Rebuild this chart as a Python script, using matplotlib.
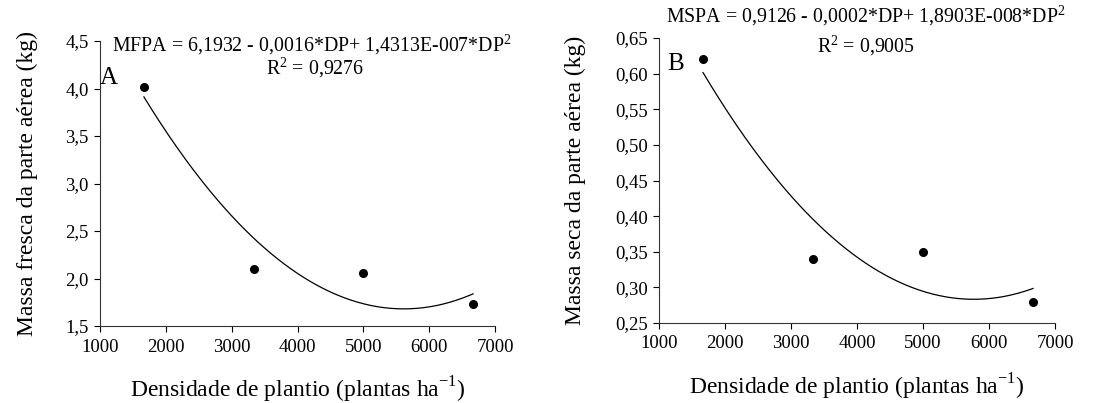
import numpy as np
import matplotlib
matplotlib.use("Agg")
import matplotlib.pyplot as plt
from matplotlib.ticker import FuncFormatter, MultipleLocator

plt.rcParams['font.family'] = ['Liberation Serif', 'DejaVu Serif']
plt.rcParams['mathtext.fontset'] = 'custom'
plt.rcParams['mathtext.rm'] = 'Liberation Serif'

density = [1667, 3333, 5000, 6667]
mfpa = [4.02, 2.10, 2.06, 1.73]
mspa = [0.62, 0.34, 0.35, 0.28]

eq_a = "MFPA = 6,1932 - 0,0016*DP+ 1,4313E-007*DP$^{2}$"
r2_a = "R$^{2}$ = 0,9276"
eq_b = "MSPA = 0,9126 - 0,0002*DP+ 1,8903E-008*DP$^{2}$"
r2_b = "R$^{2}$ = 0,9005"

xlabel = "Densidade de plantio (plantas ha$^{\\mathrm{-1}}$)"
ylabel_a = "Massa fresca da parte aérea (kg)"
ylabel_b = "Massa seca da parte aérea (kg)"

fig = plt.figure(figsize=(11.13, 4.03), dpi=100)
ax1 = fig.add_axes([100/1113, 1-326/403, 395/1113, 285/403])
ax2 = fig.add_axes([659/1113, 1-323/403, 396/1113, 285/403])

def style(ax, ylim, ystep, ydec):
    ax.set_xlim(1000, 7000)
    ax.set_ylim(*ylim)
    ax.xaxis.set_major_locator(MultipleLocator(1000))
    ax.yaxis.set_major_locator(MultipleLocator(ystep))
    ax.yaxis.set_major_formatter(FuncFormatter(lambda v, p: f"{v:.{ydec}f}".replace('.', ',')))
    for s in ['top', 'right']:
        ax.spines[s].set_visible(False)
    for s in ['left', 'bottom']:
        ax.spines[s].set_linewidth(0.8)
        ax.spines[s].set_color('#333333')
    ax.tick_params(direction='out', length=4, width=0.8, labelsize=13.5, colors='black')
    ax.tick_params(axis='x', pad=5)
    ax.tick_params(axis='y', pad=4)

def draw(ax, y, letter, ylabel, ylim, ystep, ydec, lx, ly, ypad):
    style(ax, ylim, ystep, ydec)
    coef = np.polyfit(density, y, 2)
    xs = np.linspace(min(density), max(density), 200)
    ax.plot(xs, np.polyval(coef, xs), color='black', lw=0.9)
    ax.plot(density, y, 'o', color='black', ms=5.5, clip_on=False)
    ax.set_xlabel(xlabel, fontsize=17, labelpad=14)
    ax.set_ylabel(ylabel, fontsize=17, labelpad=ypad)
    ax.text(lx, ly, letter, transform=ax.transAxes, fontsize=18, va='center', ha='left')
    return ax

draw(ax1, mfpa, "A", ylabel_a, (1.5, 4.5), 0.5, 1, 0.0, 0.87, 20)
draw(ax2, mspa, "B", ylabel_b, (0.25, 0.65), 0.05, 2, 0.02, 0.91, 21)

fig.text(312/1113, 1-45/403, eq_a, fontsize=14.3, ha='center', va='center')
fig.text(315/1113, 1-68/403, r2_a, fontsize=14.3, ha='center', va='center')
fig.text(866/1113, 1-16/403, eq_b, fontsize=14.3, ha='center', va='center')
fig.text(866/1113, 1-46/403, r2_b, fontsize=14.3, ha='center', va='center')

fig.savefig("out.png", dpi=100)
